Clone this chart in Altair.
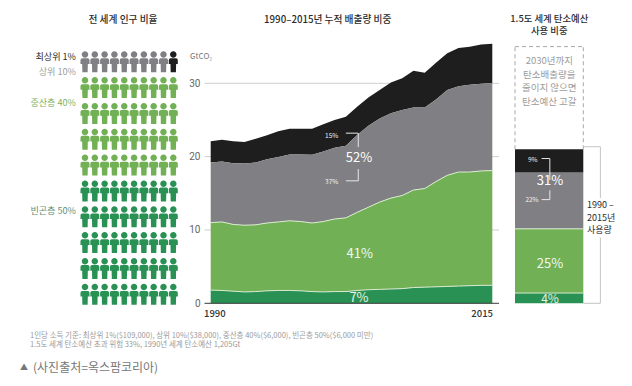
import altair as alt
import pandas as pd

# ---------- data ----------
years = list(range(1990, 2016))
top_black = [22.1,22.3,22.1,22.0,22.45,22.9,23.45,23.8,23.8,23.8,24.4,25.0,25.45,26.8,28.05,29.1,30.1,30.7,31.7,31.45,32.8,34.1,34.8,35.0,35.3,35.4]
top_grey = [19.2,19.35,19.1,19.05,19.2,19.65,19.95,20.3,20.3,20.25,20.7,21.2,21.5,22.95,24.2,25.2,25.9,26.35,26.7,26.7,27.8,29.1,29.6,29.8,29.95,30.05]
top_green = [11.0,11.1,10.75,10.65,10.7,10.95,11.1,11.25,11.15,10.95,11.15,11.5,11.65,12.4,13.1,13.8,14.35,14.7,15.45,15.65,16.6,17.45,17.9,17.9,18.05,18.1]
top_dark = [1.8,1.75,1.65,1.55,1.6,1.7,1.75,1.75,1.7,1.6,1.55,1.6,1.6,1.75,1.85,1.9,1.95,2.0,2.15,2.2,2.25,2.3,2.35,2.4,2.45,2.45]
budget_names = ["빈곤층", "중산층", "상위 10%", "최상위 1%"]
budget_shares = [4, 25, 22, 9]

BLACK, GREY, GREEN, DARK = "#1e1e1e", "#808084", "#72b055", "#2a9155"
PERSON = ("M0,-1A0.31,0.31 0 1 1 0,-0.38A0.31,0.31 0 1 1 0,-1Z "
          "M-0.26,-0.32L0.26,-0.32Q0.43,-0.32 0.43,-0.15L0.43,0.22L0.27,0.22L0.25,1L-0.25,1L-0.27,0.22"
          "L-0.43,0.22L-0.43,-0.15Q-0.43,-0.32 -0.26,-0.32Z")

# page px -> chart px
def P(v):
    return v - 8

# ---------- scales ----------
def sx(): return alt.Scale(domain=[1990, 2015], range=[P(210.7), P(492.3)])
def sy(): return alt.Scale(domain=[0, 30], range=[P(303.3), P(83.3)])
def bx(): return alt.Scale(domain=[0, 1], range=[P(515), P(583.3)])
def by(): return alt.Scale(domain=[0, 100], range=[P(303.3), P(46.6)])
def px(): return alt.Scale(domain=[1, 10], range=[P(85), P(173.3)])
def py(): return alt.Scale(domain=[0, 9], range=[P(61.7), P(294.3)])
def ax(): return alt.Scale(domain=[0, 616], range=[0, 616])
def ay(): return alt.Scale(domain=[0, 370], range=[0, 370])

layers = []

# ---------- people ----------
rows = []
for r in range(10):
    for c in range(1, 11):
        if r == 0:
            col = BLACK if c == 10 else GREY
        elif r <= 4:
            col = GREEN
        else:
            col = DARK
        rows.append({"c": c, "r": r, "col": col})
layers.append(
    alt.Chart(pd.DataFrame(rows)).mark_point(filled=True, shape=PERSON, size=441, opacity=1, strokeWidth=0).encode(
        x=alt.X("c:Q", scale=px(), axis=None),
        y=alt.Y("r:Q", scale=py(), axis=None),
        color=alt.Color("col:N", scale=None),
    )
)

# ---------- main chart ----------
grid = pd.DataFrame({"v": [10, 20, 30], "a": [1989.45] * 3, "b": [2015.6] * 3})
layers.append(
    alt.Chart(grid).mark_rule(color="#cfcfcf", strokeWidth=1).encode(
        x=alt.X("a:Q", scale=sx(), axis=None), x2="b:Q",
        y=alt.Y("v:Q", scale=sy(), axis=alt.Axis(values=[0, 10, 20, 30], title=None, domain=False, ticks=False, grid=False,
                offset=-192, labelPadding=0, labelFont="Roboto", labelFontSize=10, labelColor="#666666")),
    )
)

main = pd.DataFrame({"year": years, "zero": [0] * 26, "dark": top_dark, "green": top_green, "grey": top_grey, "black": top_black})
for lo, hi, col in [("grey", "black", BLACK), ("green", "grey", GREY), ("dark", "green", GREEN), ("zero", "dark", DARK)]:
    layers.append(
        alt.Chart(main).mark_area(color=col, opacity=1, line=False).encode(
            x=alt.X("year:Q", scale=sx(), axis=None),
            y=alt.Y(f"{lo}:Q", scale=sy(), axis=None), y2=f"{hi}:Q",
        )
    )
for s in ["green", "dark"]:
    layers.append(
        alt.Chart(main).mark_line(color="#d9ead0", strokeWidth=1).encode(
            x=alt.X("year:Q", scale=sx(), axis=None),
            y=alt.Y(f"{s}:Q", scale=sy(), axis=None),
        )
    )

base = pd.DataFrame({"v": [0], "a": [1989.45], "b": [2015.6]})
layers.append(
    alt.Chart(base).mark_rule(color="#3a3a3a", strokeWidth=1).encode(
        x=alt.X("a:Q", scale=sx(), axis=None), x2="b:Q",
        y=alt.Y("v:Q", scale=sy(), axis=None),
    )
)

# bracket in main chart (year, GtCO2)
seg_x0 = [2002.0, 2002.0, 2003.1, 2003.1]
seg_x1 = [2003.1, 2003.1, 2003.1, 2003.1]
seg_y0 = [23.2, 16.7, 23.2, 16.7]
seg_y1 = [23.2, 16.7, 21.3, 18.3]
layers.append(
    alt.Chart(pd.DataFrame({"a": seg_x0, "b": seg_x1, "c": seg_y0, "d": seg_y1})).mark_rule(color="#e6e6e6", strokeWidth=1).encode(
        x=alt.X("a:Q", scale=sx(), axis=None), x2="b:Q",
        y=alt.Y("c:Q", scale=sy(), axis=None), y2="d:Q",
    )
)

# ---------- budget bar ----------
lo = 0
recs = []
for n, s, col in zip(budget_names, budget_shares, [DARK, GREEN, GREY, BLACK]):
    recs.append({"name": n, "lo": lo, "hi": lo + s, "col": col, "a": 0, "b": 1})
    lo += s
layers.append(
    alt.Chart(pd.DataFrame(recs)).mark_rect().encode(
        x=alt.X("a:Q", scale=bx(), axis=None), x2="b:Q",
        y=alt.Y("lo:Q", scale=by(), axis=None), y2="hi:Q",
        color=alt.Color("col:N", scale=None),
    )
)
layers.append(
    alt.Chart(pd.DataFrame({"v": [4, 29], "a": [0, 0], "b": [1, 1]})).mark_rule(color="#d9ead0", strokeWidth=1).encode(
        x=alt.X("a:Q", scale=bx(), axis=None), x2="b:Q",
        y=alt.Y("v:Q", scale=by(), axis=None),
    )
)
# dashed remaining-budget box
dash_a = [0, 1, 0]
dash_b = [0, 1, 1]
dash_c = [60, 60, 100]
dash_d = [100, 100, 100]
layers.append(
    alt.Chart(pd.DataFrame({"a": dash_a, "b": dash_b, "c": dash_c, "d": dash_d})).mark_rule(color="#a8a8a8", strokeWidth=1, strokeDash=[4, 3]).encode(
        x=alt.X("a:Q", scale=bx(), axis=None), x2="b:Q",
        y=alt.Y("c:Q", scale=by(), axis=None), y2="d:Q",
    )
)
# outer bracket + inner 9% / 22% bracket
br_a = [1.0, 1.0, 1.25, 1.25, 0.39, 0.39, 0.51, 0.51]
br_b = [1.25, 1.25, 1.25, 1.25, 0.51, 0.51, 0.51, 0.51]
br_c = [61, 0, 61, 0, 56.4, 40.4, 56.4, 40.4]
br_d = [61, 0, 41, 25.6, 56.4, 40.4, 48, 44]
br_col = ["#c4c4c4"] * 4 + ["#e6e6e6"] * 4
layers.append(
    alt.Chart(pd.DataFrame({"a": br_a, "b": br_b, "c": br_c, "d": br_d, "col": br_col})).mark_rule(strokeWidth=1).encode(
        x=alt.X("a:Q", scale=bx(), axis=None), x2="b:Q",
        y=alt.Y("c:Q", scale=by(), axis=None), y2="d:Q",
        color=alt.Color("col:N", scale=None),
    )
)

# ---------- text: text, page x, page y, size, colour, align, weight ----------
KR = "Noto Sans CJK KR"
T = "#2b2b2b"
L = "#9c9c9c"
texts = [
    ("전 세계 인구 비율", 123, 19.5, 9.7, T, "center", 500),
    ("1990–2015년 누적 배출량 비중", 327.7, 19.5, 9.7, T, "center", 500),
    ("1.5도 세계 탄소예산", 549.3, 18.5, 9.4, T, "center", 500),
    ("사용 비중", 549.3, 31, 9.4, T, "center", 500),
    ("최상위 1%", 76, 56.7, 9.1, T, "right", 400),
    ("상위 10%", 76, 71.7, 9.1, "#a0a0a0", "right", 400),
    ("중산층 40%", 76, 103.3, 9.1, "#7fb264", "right", 400),
    ("빈곤층 50%", 76, 210.7, 9.1, "#5e8f78", "right", 400),
    ("GtCO₂", 190, 57, 8, "#777777", "left", 400),
    ("1990", 204, 313.5, 9.5, "#333333", "left", 500),
    ("2015", 493, 313.5, 9.5, "#333333", "right", 500),
    ("15%", 331.7, 136, 6.5, "#f0f0f0", "center", 400),
    ("37%", 331.7, 182, 6.5, "#f0f0f0", "center", 400),
    ("52%", 359, 158, 13, "#ffffff", "center", 400),
    ("41%", 359.7, 253.5, 13, "#f2f8ee", "center", 400),
    ("7%", 359, 297.5, 13, "#e8f3e0", "center", 400),
    ("2030년까지", 549.3, 61, 9.5, L, "center", 400),
    ("탄소배출량을", 549.3, 74.5, 9.5, L, "center", 400),
    ("줄이지 않으면", 549.3, 88, 9.5, L, "center", 400),
    ("탄소예산 고갈", 549.3, 101.5, 9.5, L, "center", 400),
    ("9%", 532.7, 159.5, 6.5, "#f0f0f0", "center", 400),
    ("22%", 532, 200, 6.5, "#f0f0f0", "center", 400),
    ("31%", 550, 181, 13, "#ffffff", "center", 400),
    ("25%", 550, 264, 13, "#f2f8ee", "center", 400),
    ("4%", 550, 299, 12, "#e8f3e0", "center", 400),
    ("1990 –", 587, 205, 9, T, "left", 400),
    ("2015년", 587, 218, 9, T, "left", 400),
    ("사용량", 587, 229.5, 9, T, "left", 400),
    ("1인당 소득 기준: 최상위 1%($109,000), 상위 10%($38,000), 중산층 40%($6,000), 빈곤층 50%($6,000 미만)", 30, 335.7, 7.5, "#9a9a9a", "left", 400),
    ("1.5도 세계 탄소예산 초과 위험 33%, 1990년 세계 탄소예산 1,205Gt", 30, 345.3, 7.5, "#9a9a9a", "left", 400),
    ("▲", 20, 368.3, 8, "#777777", "left", 400),
    ("(사진출처=옥스팜코리아)", 33, 368.3, 12, "#777777", "left", 400),
]
tdf = pd.DataFrame(texts, columns=["t", "x", "y", "s", "col", "al", "w"])
tdf["x"] = tdf["x"] - 8
tdf["y"] = tdf["y"] - 8
for (al, w), g in tdf.groupby(["al", "w"]):
    layers.append(
        alt.Chart(g).mark_text(align=al, baseline="middle", font=KR, fontWeight=int(w)).encode(
            x=alt.X("x:Q", scale=ax(), axis=None),
            y=alt.Y("y:Q", scale=ay(), axis=None),
            text="t:N",
            size=alt.Size("s:Q", scale=None),
            color=alt.Color("col:N", scale=None),
        )
    )

chart = (
    alt.layer(*layers)
    .resolve_scale(x="independent", y="independent", color="independent", size="independent")
    .properties(width=616, height=370, padding=0, autosize=alt.AutoSizeParams(type="none"), background="white")
    .configure_view(strokeWidth=0)
)
chart.save("out.html", embed_options={"renderer": "svg", "actions": False})
